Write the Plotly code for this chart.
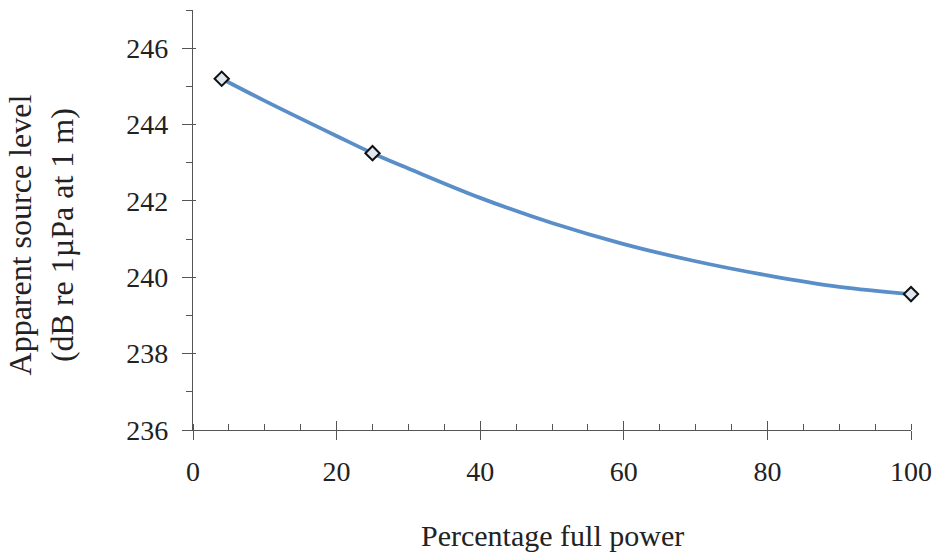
import plotly.graph_objects as go

# Measured data points
power_pct = [4, 25, 100]
source_level = [245.2, 243.25, 239.56]

# Trend curve
fit_x = [4, 10, 20, 25, 30, 40, 50, 60, 70, 80, 90, 100]
fit_y = [245.2, 244.62, 243.70, 243.25, 242.85, 242.08, 241.42, 240.87, 240.42, 240.05, 239.75, 239.56]

x_ticks = [0, 20, 40, 60, 80, 100]
y_ticks = [236, 238, 240, 242, 244, 246]

font_family = "Times New Roman, serif"
axis_color = "#555555"
tick_font = dict(family=font_family, size=28, color="#222222")

fig = go.Figure()
fig.add_trace(go.Scatter(x=fit_x, y=fit_y, mode="lines", line=dict(color="#5a8ec8", width=3.8, shape="spline"),
                         showlegend=False, hoverinfo="skip", cliponaxis=False))
fig.add_trace(go.Scatter(x=power_pct, y=source_level, mode="markers", cliponaxis=False,
                         marker=dict(symbol="diamond", size=11, color="#dfe7f0",
                                     line=dict(color="#111111", width=2)),
                         showlegend=False))
# invisible trace on overlay axes for inner tick halves
fig.add_trace(go.Scatter(x=[None], y=[None], xaxis="x2", yaxis="y2", showlegend=False))

fig.update_layout(
    width=942, height=553,
    margin=dict(l=193, r=27, t=10, b=123),
    plot_bgcolor="white", paper_bgcolor="white",
    font=dict(family=font_family, size=27, color="#222222"),
    xaxis=dict(range=[0, 100], tickvals=x_ticks, ticks="outside", ticklen=9, tickcolor=axis_color,
               tickfont=tick_font,
               showline=True, linecolor=axis_color, linewidth=1.2, showgrid=False, zeroline=False,
               ticklabelstandoff=7,
               minor=dict(dtick=5, ticks="inside", ticklen=6, tickcolor=axis_color, showgrid=False)),
    xaxis2=dict(overlaying="x", matches="x", range=[0, 100], tickvals=x_ticks, ticks="inside", ticklen=9,
                tickcolor=axis_color, showticklabels=False, showgrid=False, zeroline=False, showline=False),
    yaxis=dict(range=[236, 247], tickvals=y_ticks, ticks="outside", ticklen=10, tickcolor=axis_color,
               tickfont=tick_font,
               showline=True, linecolor=axis_color, linewidth=1.2, showgrid=False, zeroline=False,
               ticklabelstandoff=8,
               minor=dict(dtick=1, ticks="outside", ticklen=6, tickcolor=axis_color, showgrid=False)),
    yaxis2=dict(overlaying="y", matches="y", range=[236, 247], tickvals=y_ticks, ticks="inside", ticklen=3,
                tickcolor=axis_color, showticklabels=False, showgrid=False, zeroline=False, showline=False),
    annotations=[
        dict(text="Percentage full power", x=0.5, xref="paper", y=-0.25, yref="paper", showarrow=False,
             font=dict(size=30), yanchor="middle"),
        dict(text="Apparent source level<br>(dB re 1µPa at 1 m)", x=-0.212, xref="paper", y=0.465, yref="paper",
             textangle=-90, showarrow=False, font=dict(size=32), xanchor="center", yanchor="middle"),
    ],
)

fig.write_html("out.html")
